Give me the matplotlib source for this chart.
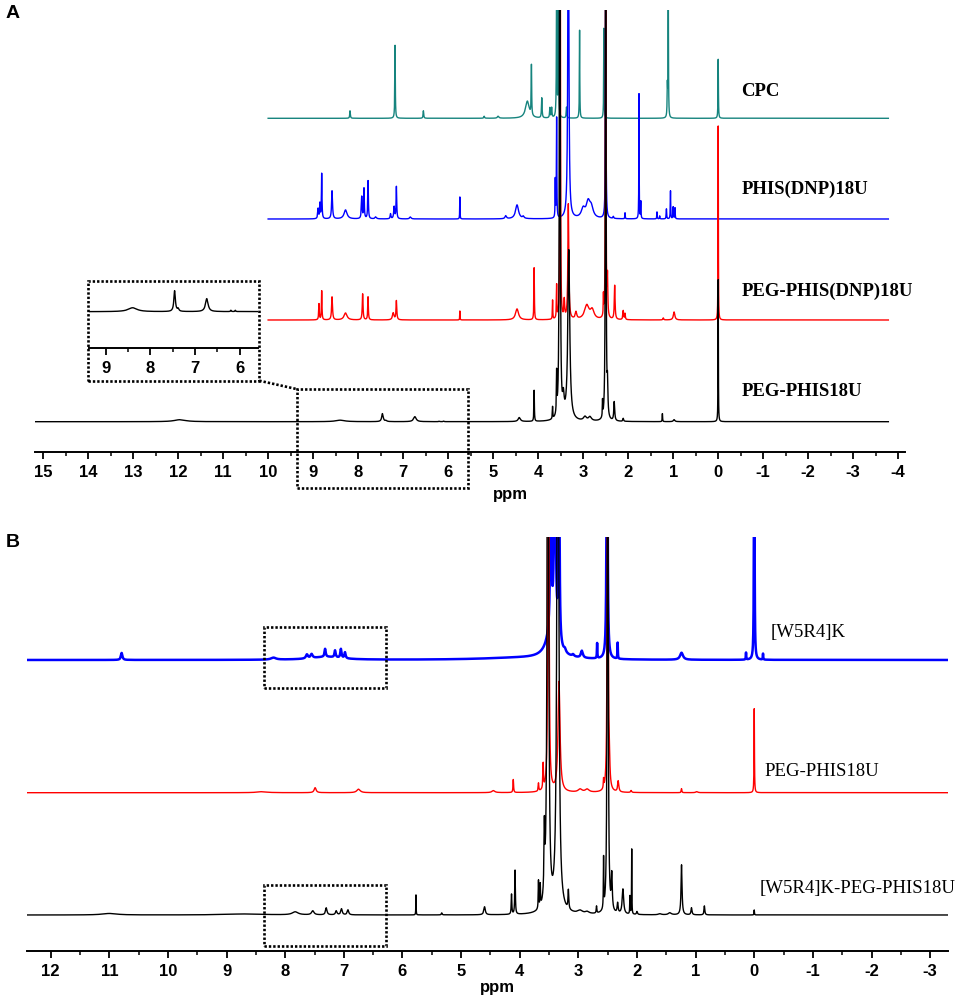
import numpy as np
import matplotlib
matplotlib.use("Agg")
import matplotlib.pyplot as plt
from matplotlib import ticker
from matplotlib.patches import Rectangle
from matplotlib.lines import Line2D

# ========== 1. Peak lists ==========
# each peak: (shift in ppm, height in arbitrary units, half width in ppm)

# --- panel A ---
cpc_peaks = [(8.18, 7.5, 0.008), (7.18, 73, 0.006), (6.55, 7.5, 0.008), (5.20, 2, 0.01),
             (4.89, 2, 0.02), (4.24, 17, 0.05), (4.15, 50, 0.006), (3.92, 20, 0.008),
             (3.74, 10, 0.008), (3.70, 10, 0.008), (3.59, 150, 0.006), (3.55, 130, 0.006),
             (3.37, 11, 0.008), (3.08, 88, 0.005), (2.54, 90, 0.005), (1.13, 30, 0.006),
             (1.11, 140, 0.005), (0.0, 59, 0.005)]

phis_dnp_peaks = [(8.89, 10, 0.01), (8.85, 15, 0.008), (8.81, 45, 0.007), (8.58, 28, 0.012),
                  (8.28, 9, 0.04), (7.92, 22, 0.01), (7.87, 30, 0.008), (7.78, 38, 0.008),
                  (7.61, 2, 0.02), (7.28, 5, 0.01), (7.20, 12, 0.012), (7.15, 32, 0.008),
                  (6.84, 2, 0.02), (5.74, 22, 0.004), (4.72, 3, 0.02), (4.47, 14, 0.04),
                  (4.33, 2, 0.02), (3.62, 38, 0.005), (3.59, 100, 0.005), (3.33, 400, 0.012),
                  (3.00, 9, 0.05), (2.89, 15, 0.05), (2.82, 10, 0.05), (2.50, 300, 0.006),
                  (2.33, 2, 0.01), (2.07, 6, 0.005), (1.76, 125, 0.004), (1.72, 17, 0.005),
                  (1.36, 7, 0.005), (1.30, 3, 0.005), (1.15, 10, 0.006), (1.06, 28, 0.005),
                  (1.00, 12, 0.006), (0.96, 11, 0.005)]

peg_phis_dnp_peaks = [(8.87, 16, 0.008), (8.81, 29, 0.007), (8.58, 23, 0.012), (8.28, 7, 0.04),
                      (7.90, 26, 0.01), (7.78, 23, 0.008), (7.22, 7, 0.02), (7.15, 19, 0.01),
                      (5.74, 9, 0.004), (4.47, 11, 0.04), (4.09, 52, 0.006), (3.68, 19, 0.005),
                      (3.59, 33, 0.006), (3.51, 500, 0.006), (3.42, 18, 0.01), (3.33, 115, 0.012),
                      (3.16, 7, 0.02), (2.92, 14, 0.06), (2.80, 9, 0.05), (2.55, 20, 0.005),
                      (2.50, 500, 0.006), (2.46, 38, 0.008), (2.30, 34, 0.01), (2.11, 9, 0.01),
                      (2.07, 6, 0.008), (1.22, 2, 0.01), (0.98, 8, 0.02), (0.0, 194, 0.004)]

peg_phis_peaks = [(11.96, 2, 0.15), (8.40, 1.5, 0.12), (7.46, 8, 0.02), (7.38, 1, 0.02),
                  (6.74, 5, 0.035), (6.20, 0.5, 0.01), (6.10, 0.5, 0.01), (4.42, 4, 0.03),
                  (4.09, 31, 0.006), (3.68, 12, 0.006), (3.59, 40, 0.006), (3.52, 900, 0.008),
                  (3.44, 18, 0.02), (3.32, 170, 0.025), (2.96, 4, 0.04), (2.85, 4, 0.04),
                  (2.57, 16, 0.005), (2.50, 900, 0.006), (2.46, 30, 0.01), (2.31, 19, 0.012),
                  (2.11, 3, 0.01), (1.24, 8, 0.005), (0.98, 2, 0.02), (0.0, 142, 0.004)]

# --- panel B ---
w5r4k_peaks = [(10.79, 7, 0.015), (8.20, 2, 0.05), (7.30, 3, 0.3), (7.63, 4, 0.02),
               (7.55, 4, 0.02), (7.32, 8, 0.012), (7.15, 7, 0.012), (7.05, 9, 0.012),
               (6.98, 6, 0.012), (4.00, 2, 0.8), (3.45, 28, 0.1), (3.47, 300, 0.008),
               (3.40, 400, 0.01), (3.33, 300, 0.008), (3.23, 3, 0.02), (3.09, 2, 0.02),
               (2.94, 7, 0.02), (2.68, 15, 0.004), (2.51, 500, 0.007), (2.33, 16, 0.004),
               (1.24, 7, 0.03), (0.14, 7, 0.004), (0.0, 500, 0.004), (-0.15, 6, 0.004)]

peg_phis_b_peaks = [(8.40, 1, 0.1), (7.49, 5, 0.02), (6.75, 3.5, 0.035), (4.45, 2, 0.03),
                    (4.11, 13, 0.006), (3.68, 8, 0.006), (3.60, 25, 0.006), (3.51, 800, 0.007),
                    (3.33, 110, 0.02), (2.97, 3, 0.04), (2.85, 3, 0.04), (2.57, 9, 0.005),
                    (2.50, 800, 0.006), (2.47, 18, 0.01), (2.32, 11, 0.012), (2.10, 2, 0.01),
                    (1.24, 4, 0.006), (0.98, 1, 0.02), (0.0, 84, 0.004)]

conj_peaks = [(11.0, 1.5, 0.15), (8.70, 1, 0.4), (7.83, 3, 0.06), (7.53, 4, 0.025),
              (7.30, 7, 0.015), (7.13, 4, 0.015), (7.04, 6, 0.015), (6.93, 5, 0.015),
              (5.77, 20, 0.003), (5.33, 2, 0.008), (4.60, 8, 0.015), (4.14, 20, 0.006),
              (4.08, 44, 0.006), (3.68, 28, 0.005), (3.65, 22, 0.005), (3.58, 65, 0.008),
              (3.52, 800, 0.012), (3.35, 800, 0.015), (3.17, 19, 0.008), (2.97, 3, 0.05),
              (2.85, 2, 0.04), (2.69, 7, 0.006), (2.57, 50, 0.004), (2.50, 1200, 0.006),
              (2.43, 35, 0.01), (2.33, 10, 0.01), (2.24, 25, 0.015), (2.12, 18, 0.004),
              (2.09, 65, 0.003), (2.00, 3, 0.01), (1.61, 1, 0.03), (1.44, 2, 0.03),
              (1.24, 50, 0.01), (1.07, 7, 0.01), (0.85, 9, 0.008), (0.0, 5, 0.004)]

labels_a = ["CPC", "PHIS(DNP)18U", "PEG-PHIS(DNP)18U", "PEG-PHIS18U"]
labels_b = ["[W5R4]K", "PEG-PHIS18U", "[W5R4]K-PEG-PHIS18U"]

plt.rcParams['axes.unicode_minus'] = False

W, H = 971, 1005
TEAL = '#16847e'


def spectrum(x, peaks):
    y = np.zeros_like(x)
    for pos, h, w in peaks:
        y += h / (1.0 + ((x - pos) / w) ** 2)
    return y


def fig_rect(x0, y0, x1, y1):
    # pixel box -> figure fraction [left, bottom, width, height]
    return [x0 / W, 1 - y1 / H, (x1 - x0) / W, (y1 - y0) / H]


def style_axis(ax, lo, hi, fs=12):
    ax.set_xlim(lo, hi)
    for s in ['top', 'left', 'right']:
        ax.spines[s].set_visible(False)
    ax.spines['bottom'].set_linewidth(1.4)
    ax.set_yticks([])
    ax.xaxis.set_major_locator(ticker.MultipleLocator(1))
    ax.xaxis.set_minor_locator(ticker.MultipleLocator(0.5))
    ax.xaxis.set_major_formatter(ticker.StrMethodFormatter('{x:.0f}'))
    ax.tick_params(axis='x', which='major', direction='out', length=5, width=1.3,
                   labelsize=fs, pad=4)
    ax.tick_params(axis='x', which='minor', direction='out', length=3, width=1.1)
    for lab in ax.get_xticklabels():
        lab.set_fontweight('bold')
        lab.set_family('Liberation Sans')


dots = (0, (0.9, 0.75))

fig = plt.figure(figsize=(W / 100, H / 100), dpi=100)

# ========== 2. Panel A ==========
axA = fig.add_axes(fig_rect(35, 10, 905, 452))
style_axis(axA, 15.18, -4.15)
axA.set_ylim(0, 442)

xa_full = np.round(np.arange(-3.78, 15.18, 0.001), 3)
xa_part = xa_full[xa_full <= 10.0]

offs_a = [333.7, 233, 132, 30.3]
cols_a = [TEAL, 'blue', 'red', 'black']
peaks_a = [cpc_peaks, phis_dnp_peaks, peg_phis_dnp_peaks, peg_phis_peaks]
for i in range(4):
    xx = xa_full if i == 3 else xa_part
    axA.plot(xx, offs_a[i] + spectrum(xx, peaks_a[i]), color=cols_a[i], lw=1.0, zorder=2 + i)

label_y_a = [360.3, 262.7, 160.3, 60.3]
for lab, ly in zip(labels_a, label_y_a):
    axA.text(-0.52, ly, lab, ha='left', va='center', fontsize=13.5, fontweight='bold',
             family='Liberation Serif', zorder=10)

fig.text(510 / W, 1 - 494 / H, 'ppm', ha='center', va='center', fontsize=12,
         fontweight='bold', family='Liberation Sans')

# dotted zoom box on the axis
axA.add_patch(Rectangle((9.35, -36.3), 5.56 - 9.35, 99, fill=False, ls=dots, lw=1.9,
                        color='black', clip_on=False, zorder=8))

# inset
axI = fig.add_axes(fig_rect(89.3, 281, 257.7, 348.3))
style_axis(axI, 9.37, 5.6)
axI.set_ylim(0, 67.3)
xi = xa_full[(xa_full <= 9.37) & (xa_full >= 5.6)]
axI.plot(xi, 36.6 + 2.6 * spectrum(xi, peg_phis_peaks), color='black', lw=1.0)
fig.add_artist(Rectangle((88.3 / W, 1 - 380.7 / H), (259.3 - 88.3) / W, (380.7 - 281) / H,
                         transform=fig.transFigure, fill=False, ls=dots, lw=1.9, color='black'))
fig.add_artist(Line2D([259.3 / W, 297.7 / W], [1 - 380.7 / H, 1 - 389.3 / H],
                      transform=fig.transFigure, ls=dots, lw=1.9, color='black'))

fig.text(13 / W, 1 - 13 / H, 'A', ha='center', va='center', fontsize=14,
         fontweight='bold', family='Liberation Sans')

# ========== 3. Panel B ==========
axB = fig.add_axes(fig_rect(26.7, 537, 948.3, 951))
style_axis(axB, 12.41, -3.31)
axB.set_ylim(0, 414)

xb = np.round(np.arange(-3.31, 12.41, 0.001), 3)
offs_b = [291, 158.3, 36]
cols_b = ['blue', 'red', 'black']
lws_b = [1.8, 1.0, 1.0]
peaks_b = [w5r4k_peaks, peg_phis_b_peaks, conj_peaks]
for i in range(3):
    axB.plot(xb, offs_b[i] + spectrum(xb, peaks_b[i]), color=cols_b[i], lw=lws_b[i], zorder=2 + i)

label_x_b = [-0.28, -0.18, -0.10]
label_y_b = [318.3, 180, 62.7]
for lab, lx, ly in zip(labels_b, label_x_b, label_y_b):
    axB.text(lx, ly, lab, ha='left', va='center', fontsize=13.5,
             family='Liberation Serif', zorder=10)

for y0 in [262.7, 5.3]:
    axB.add_patch(Rectangle((8.37, y0), 6.28 - 8.37, 61, fill=False, ls=dots, lw=1.9,
                            color='black', clip_on=False, zorder=8))

fig.text(497 / W, 1 - 987 / H, 'ppm', ha='center', va='center', fontsize=12,
         fontweight='bold', family='Liberation Sans')
fig.text(13 / W, 1 - 542 / H, 'B', ha='center', va='center', fontsize=14,
         fontweight='bold', family='Liberation Sans')

fig.savefig('out.png', dpi=100)
